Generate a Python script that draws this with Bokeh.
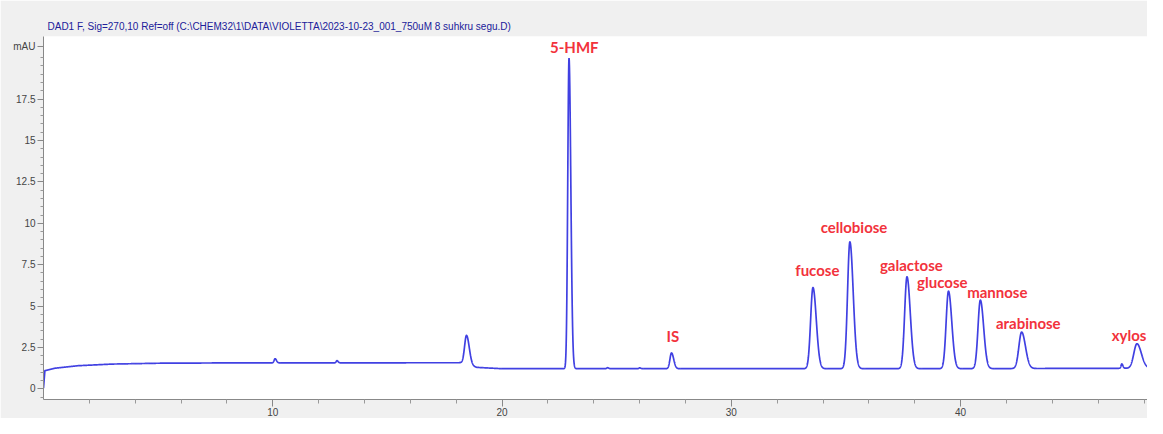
import numpy as np
from bokeh.plotting import figure
from bokeh.models import Label, FixedTicker, ColumnDataSource
from bokeh.embed import file_html
from bokeh.resources import INLINE

# ---- data ----
title_text = "DAD1 F, Sig=270,10 Ref=off (C:\\CHEM32\\1\\DATA\\VIOLETTA\\2023-10-23_001_750uM 8 suhkru segu.D)"

# baseline (time in min, absorbance in mAU)
base_t = [0.0, 0.06, 0.5, 1.5, 3.0, 5.0, 8.0, 18.2, 18.9, 20.0, 30.0, 40.0, 48.2]
base_v = [0.05, 1.10, 1.25, 1.40, 1.50, 1.55, 1.57, 1.58, 1.30, 1.22, 1.22, 1.22, 1.25]

# peaks: retention time, height above baseline, width (sigma)
peak_t = [10.1, 12.8, 18.45, 22.92, 24.6, 26.0, 27.39, 33.56, 35.17, 37.66, 39.47, 40.86, 42.66, 47.03, 47.69]
peak_h = [0.25, 0.13, 1.75, 18.75, 0.06, 0.05, 0.95, 4.90, 7.66, 5.55, 4.68, 4.14, 2.20, 0.26, 1.48]
peak_w = [0.05, 0.04, 0.10, 0.065, 0.04, 0.04, 0.08, 0.12, 0.12, 0.12, 0.12, 0.12, 0.14, 0.04, 0.16]

# peak annotations
label_text = ["5-HMF", "IS", "fucose", "cellobiose", "galactose", "glucose", "mannose", "arabinose", "xylos"]
label_x = [23.15, 27.45, 33.75, 35.35, 37.85, 39.2, 41.6, 42.95, 48.1]
label_y = [20.65, 3.2, 7.15, 9.75, 7.5, 6.45, 5.85, 3.95, 3.25]
label_align = ["center", "center", "center", "center", "center", "center", "center", "center", "right"]

# axis ticks
x_major = [10, 20, 30, 40]
x_minor = [2, 4, 6, 8, 12, 14, 16, 18, 22, 24, 26, 28, 32, 34, 36, 38, 42, 44, 46, 48]
y_major = [0, 2.5, 5, 7.5, 10, 12.5, 15, 17.5, 20.7]
y_major_labels = ["0", "2.5", "5", "7.5", "10", "12.5", "15", "17.5", "mAU"]
y_minor = [-0.5, 0.5, 1, 1.5, 2, 3, 3.5, 4, 4.5, 5.5, 6, 6.5, 7, 8, 8.5, 9, 9.5,
           10.5, 11, 11.5, 12, 13, 13.5, 14, 14.5, 15.5, 16, 16.5, 17, 18, 18.5, 19, 19.5, 20]

# ---- build trace ----
t = np.arange(0.0, 48.3, 0.004)
y = np.interp(t, base_t, base_v)
for c, h, s in zip(peak_t, peak_h, peak_w):
    sig = np.where(t < c, s * 0.85, s * 1.2)
    y = y + h * np.exp(-0.5 * ((t - c) / sig) ** 2)

src = ColumnDataSource(dict(t=t, y=y))

p = figure(width=1147, height=418, x_range=(0, 48.15), y_range=(-0.64, 21.28),
           output_backend="svg", toolbar_location=None,
           min_border_left=43, min_border_right=0, min_border_top=36, min_border_bottom=19,
           background_fill_color="white", border_fill_color="#f0f0f0")
p.outline_line_color = None
p.grid.visible = False

p.title.text = title_text
p.title.align = "left"
p.title.offset = 4
p.title.standoff = 9
p.title.text_font = "Liberation Sans"
p.title.text_font_size = "10px"
p.title.text_font_style = "normal"
p.title.text_color = "#20209a"

p.line("t", "y", source=src, line_color="#4040e2", line_width=1.7)

# axes
p.yaxis.ticker = FixedTicker(ticks=y_major, minor_ticks=y_minor)
p.yaxis.major_label_overrides = {v: s for v, s in zip(y_major, y_major_labels)}
p.xaxis.ticker = FixedTicker(ticks=x_major, minor_ticks=x_minor)
for ax in (p.xaxis, p.yaxis):
    ax.axis_line_color = "#888888"
    ax.major_tick_line_color = "#888888"
    ax.minor_tick_line_color = "#999999"
    ax.major_label_text_color = "#444444"
    ax.major_label_text_font = "Liberation Sans"
    ax.major_label_text_font_size = "10px"
    ax.major_tick_in = 0
    ax.minor_tick_in = 0
p.yaxis.major_tick_out = 6
p.yaxis.minor_tick_out = 3
p.yaxis.major_label_standoff = 2
p.xaxis.major_tick_out = 7
p.xaxis.minor_tick_out = 4
p.xaxis.major_label_standoff = 1

for lt, lx, ly, la in zip(label_text, label_x, label_y, label_align):
    p.add_layout(Label(x=lx, y=ly, text=lt, text_align=la, text_baseline="middle",
                       text_font="Lato", text_font_style="bold", text_font_size="15px",
                       text_color="#f2323c"))

open("out.html", "w").write(file_html(p, INLINE))
